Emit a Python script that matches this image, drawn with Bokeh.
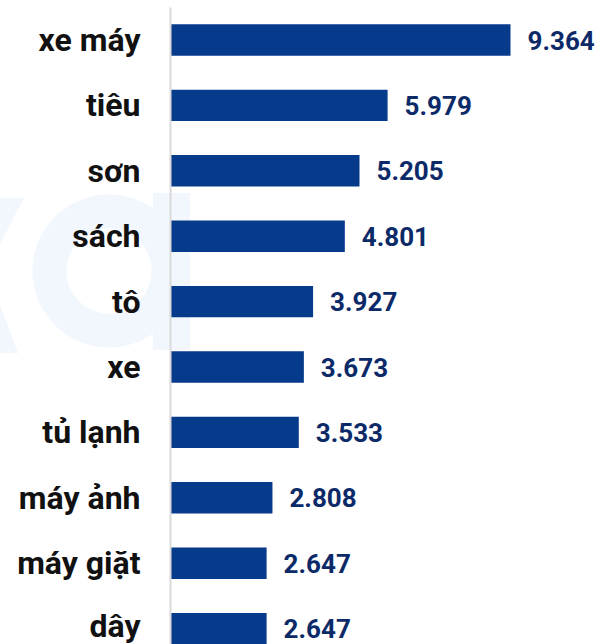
from bokeh.plotting import figure
from bokeh.models import ColumnDataSource, Range1d, FixedTicker
from bokeh.embed import file_html
from bokeh.resources import INLINE
from bokeh.core.properties import value

categories = ["xe máy", "tiêu", "sơn", "sách", "tô", "xe", "tủ lạnh", "máy ảnh", "máy giặt", "dây"]
values = [9364, 5979, 5205, 4801, 3927, 3673, 3533, 2808, 2647, 2647]

idx = list(range(len(categories)))
labels = [f"{v:,}".replace(",", ".") for v in values]

src = ColumnDataSource(dict(y=idx, v=values, lab=labels))

p = figure(width=597, height=644, output_backend="svg", toolbar_location=None,
           x_range=Range1d(0, 11760), y_range=Range1d(9.243, -0.497),
           min_border_left=170, min_border_right=0, min_border_top=7, min_border_bottom=0)

# faint decorative watermark behind the (transparent) canvas
wm = "#f2f6fd"
clear = "rgba(255,255,255,0)"
p.background_fill_alpha = 0
p.border_fill_alpha = 0
p.styles = {
    "background-color": "white",
    "background-image": ", ".join([
        f"radial-gradient(circle at 109px 271px, {clear} 42px, {wm} 43px, {wm} 76px, {clear} 77px)",
        f"linear-gradient({wm}, {wm})",
        f"linear-gradient(to bottom right, {wm} 50%, {clear} 50%)",
        f"linear-gradient(to top right, {wm} 50%, {clear} 50%)",
    ]),
    "background-size": "auto, 37px 157px, 24px 46px, 18px 48px",
    "background-position": "0 0, 153px 193px, 0 198px, 0 305px",
    "background-repeat": "no-repeat",
}

p.hbar(y="y", right="v", left=0, height=0.48, source=src,
       fill_color="#063a8b", line_color=None)

p.text(x="v", y="y", text="lab", source=src, x_offset=17,
       text_align="left", text_baseline="middle",
       text_font=value("Roboto"), text_font_style="bold",
       text_font_size="26px", text_color="#0c2a68")

p.xaxis.visible = False
p.grid.visible = False
p.outline_line_color = None

ax = p.yaxis[0]
ax.ticker = FixedTicker(ticks=idx)
ax.major_label_overrides = {i: c for i, c in zip(idx, categories)}
ax.major_tick_out = 0
ax.major_tick_in = 0
ax.minor_tick_out = 0
ax.minor_tick_in = 0
ax.axis_line_color = "#d9d9d9"
ax.axis_line_width = 2
ax.major_label_standoff = 30
ax.major_label_text_font = "Roboto"
ax.major_label_text_font_style = "bold"
ax.major_label_text_font_size = "32px"
ax.major_label_text_color = "#111111"

open("out.html", "w").write(file_html(p, INLINE))
